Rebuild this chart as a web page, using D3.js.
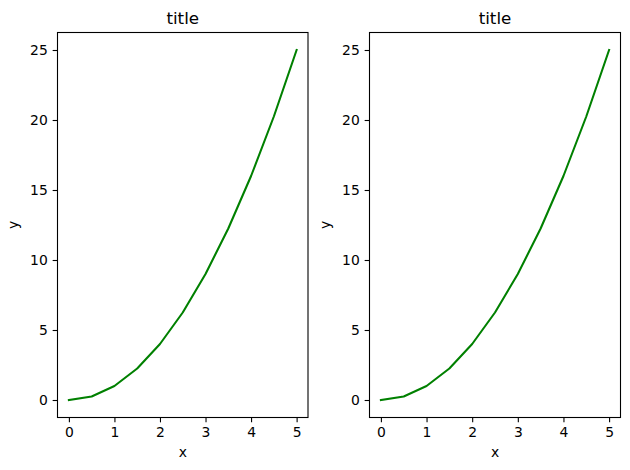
<!DOCTYPE html>
<html>
<head>
<meta charset="utf-8">
<script src="https://cdn.jsdelivr.net/npm/d3@7"></script>
<style>
  body { margin: 0; background: #fff; }
  svg text { font-family: "DejaVu Sans", sans-serif; fill: #000; }
</style>
</head>
<body>
<div id="chart"></div>
<script>
// Data
var xValues = [0, 0.5, 1, 1.5, 2, 2.5, 3, 3.5, 4, 4.5, 5];
var yValues = [0, 0.25, 1, 2.25, 4, 6.25, 9, 12.25, 16, 20.25, 25];
var xTicks = [0, 1, 2, 3, 4, 5];
var yTicks = [0, 5, 10, 15, 20, 25];
var panelTitles = ["title", "title"];

// svg container
var svgWidth = 630;
var svgHeight = 470;

var svg = d3.select("#chart").append("svg")
  .attr("width", svgWidth)
  .attr("height", svgHeight);

// axes boxes in pixels
var panels = [
  { left: 57.5, right: 308, top: 32.5, bottom: 417.5 },
  { left: 369.5, right: 620.5, top: 32.5, bottom: 417.5 }
];

var points = xValues.map(function(x, i) { return { x: x, y: yValues[i] }; });

panels.forEach(function(p, k) {
  var xScale = d3.scaleLinear()
    .domain([-0.25, 5.25])
    .range([p.left, p.right]);

  var yScale = d3.scaleLinear()
    .domain([-1.25, 26.25])
    .range([p.bottom, p.top]);

  var g = svg.append("g");

  // line
  var line = d3.line()
    .x(function(d) { return xScale(d.x); })
    .y(function(d) { return yScale(d.y); });

  g.append("path")
    .datum(points)
    .attr("d", line)
    .attr("fill", "none")
    .attr("stroke", "#008000")
    .attr("stroke-width", 2.08)
    .attr("stroke-linejoin", "round")
    .attr("stroke-linecap", "square");

  // x axis
  var bottomAxis = d3.axisBottom(xScale)
    .tickValues(xTicks)
    .tickFormat(d3.format("d"))
    .tickSize(4.86)
    .tickPadding(4.86);

  var xg = g.append("g")
    .attr("transform", "translate(0," + p.bottom + ")")
    .call(bottomAxis);
  xg.select(".domain").remove();
  xg.selectAll("line").attr("stroke", "#000").attr("stroke-width", 1.1);
  xg.selectAll("text").attr("font-size", 13.9).attr("font-family", "DejaVu Sans").attr("fill", "#000");

  // y axis
  var leftAxis = d3.axisLeft(yScale)
    .tickValues(yTicks)
    .tickFormat(d3.format("d"))
    .tickSize(4.86)
    .tickPadding(4.86);

  var yg = g.append("g")
    .attr("transform", "translate(" + p.left + ",0)")
    .call(leftAxis);
  yg.select(".domain").remove();
  yg.selectAll("line").attr("stroke", "#000").attr("stroke-width", 1.1);
  yg.selectAll("text").attr("font-size", 13.9).attr("font-family", "DejaVu Sans").attr("fill", "#000");

  // frame
  g.append("rect")
    .attr("x", p.left)
    .attr("y", p.top)
    .attr("width", p.right - p.left)
    .attr("height", p.bottom - p.top)
    .attr("fill", "none")
    .attr("stroke", "#000")
    .attr("stroke-width", 1.1);

  // title
  g.append("text")
    .attr("x", (p.left + p.right) / 2)
    .attr("y", p.top - 8.3)
    .attr("text-anchor", "middle")
    .attr("font-size", 16.7)
    .text(panelTitles[k]);

  // axis labels
  g.append("text")
    .attr("x", (p.left + p.right) / 2)
    .attr("y", 457)
    .attr("text-anchor", "middle")
    .attr("font-size", 13.9)
    .text("x");

  var yLabelX = p.left - 39.5;
  g.append("text")
    .attr("transform", "translate(" + yLabelX + "," + ((p.top + p.bottom) / 2) + ") rotate(-90)")
    .attr("text-anchor", "middle")
    .attr("font-size", 13.9)
    .text("y");
});
</script>
</body>
</html>
